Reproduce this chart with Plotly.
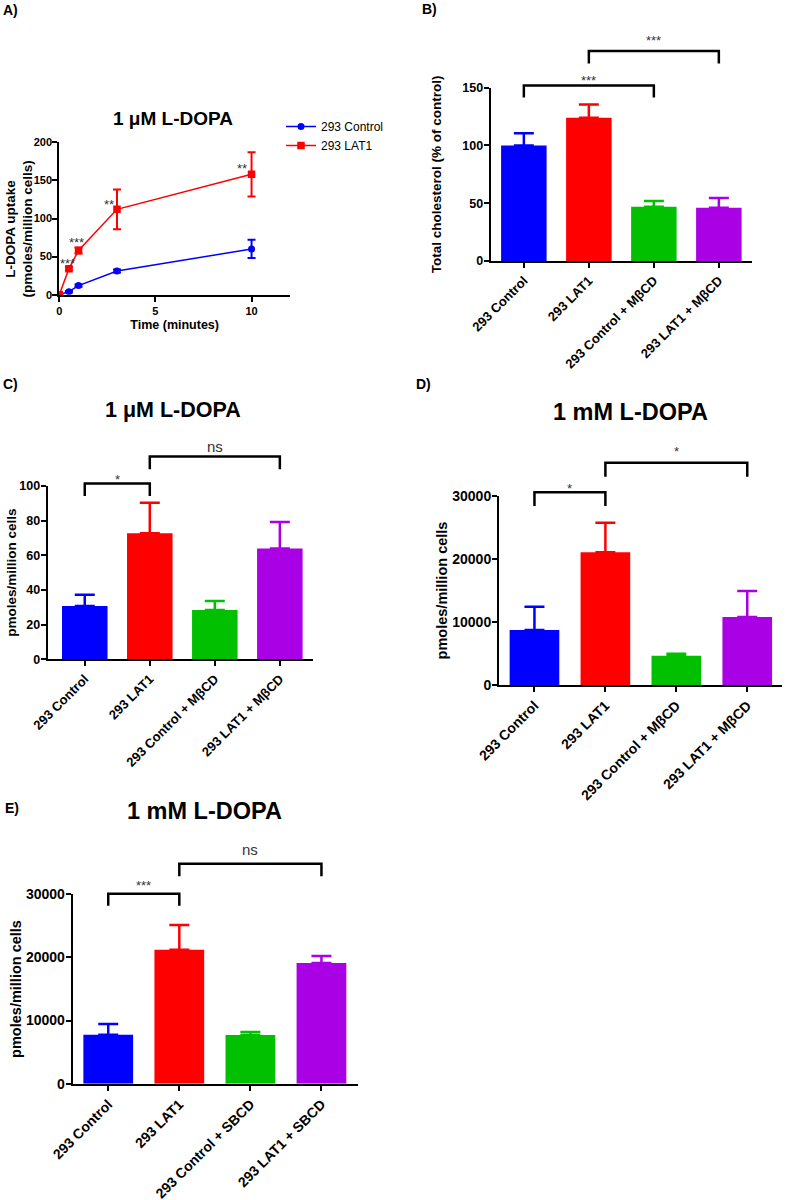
import plotly.graph_objects as go

FONT = "Liberation Sans"
W, H = 787, 1200

# A) uptake time course, 1 uM L-DOPA
time_min = [0, 0.5, 1, 3, 10]
ctrl_uptake = [0, 4, 12, 31, 60]
ctrl_err = [0, 1, 1.5, 2, 12]
lat1_uptake = [0, 34, 58, 112, 158]
lat1_err = [0, 2, 4, 26, 29]
a_star_t = [0.45, 0.87, 2.57, 9.48]
a_star_y = [41, 69, 119, 165]
a_star_txt = ["***", "***", "**", "**"]

mbcd_labels = ["293 Control", "293 LAT1", "293 Control + M\u03b2CD", "293 LAT1 + M\u03b2CD"]
sbcd_labels = ["293 Control", "293 LAT1", "293 Control + SBCD", "293 LAT1 + SBCD"]
bar_colors = ["#0000FF", "#FF0000", "#00C000", "#AA00E6"]

# B) total cholesterol
chol_pct = [100, 124, 47, 46]
chol_err = [10.5, 11.5, 5, 8.5]
# C) 1 uM L-DOPA uptake
c_uptake = [30.8, 72.7, 28.5, 64]
c_err = [6.5, 17.7, 5.1, 15.2]
# D) 1 mM L-DOPA uptake, MbCD
d_uptake = [8730, 21060, 4650, 10790]
d_err = [3700, 4710, 320, 4130]
# E) 1 mM L-DOPA uptake, SBCD
e_uptake = [7770, 21230, 7720, 19130]
e_err = [1690, 3920, 470, 1110]

# comparisons: (left bar, right bar, bracket top, leg end, label, label height)
b_brackets = [(0, 2, 152, 141.6, "***", 156.3), (1, 3, 181.7, 171, "***", 190.9)]
c_brackets = [(0, 1, 101.5, 94.2, "*", 103.7), (1, 3, 117, 109.6, "ns", 123)]
d_brackets = [(0, 1, 30600, 28400, "*", 31270), (1, 3, 35290, 33070, "*", 37140)]
e_brackets = [(0, 1, 30100, 28190, "***", 31440), (1, 3, 34850, 32840, "ns", 37030)]


def dom_x(a, b):
    return [a / W, b / W]


def dom_y(top, bottom):
    return [1 - bottom / H, 1 - top / H]


def bold(size):
    return dict(family=FONT, size=size, color="black", weight="bold")


def paper_text(text, x, y, size, angle=0):
    return dict(x=x / W, y=1 - y / H, xref="paper", yref="paper", xanchor="center",
                yanchor="middle", text="<b>%s</b>" % text, showarrow=False, font=bold(size),
                textangle=angle)


axis_style = dict(showline=True, linewidth=2, linecolor="black", ticks="outside",
                  ticklen=5, tickwidth=2, tickcolor="black", showgrid=False,
                  zeroline=False, fixedrange=True, automargin=False)

fig = go.Figure()
annotations = []

# ---- panel A ----
fig.add_trace(go.Scatter(x=time_min, y=ctrl_uptake, mode="lines+markers", name="293 Control",
                         line=dict(color="#0000FF", width=1.5),
                         marker=dict(symbol="circle", size=7, color="#0000FF"),
                         error_y=dict(type="data", array=ctrl_err, color="#0000FF",
                                      thickness=2, width=4),
                         xaxis="x", yaxis="y"))
fig.add_trace(go.Scatter(x=time_min, y=lat1_uptake, mode="lines+markers", name="293 LAT1",
                         line=dict(color="#FF0000", width=1.5),
                         marker=dict(symbol="square", size=7.5, color="#FF0000"),
                         error_y=dict(type="data", array=lat1_err, color="#FF0000",
                                      thickness=2, width=4),
                         xaxis="x", yaxis="y"))
for t, v, s in zip(a_star_t, a_star_y, a_star_txt):
    annotations.append(dict(x=t, y=v, xref="x", yref="y", text=s, showarrow=False,
                            xanchor="center", yanchor="middle",
                            font=dict(family=FONT, size=13, color="#333333")))

layout = dict(
    xaxis=dict(domain=dom_x(59.3, 290), anchor="y", range=[0, 12], tickvals=[0, 5, 10],
               tickfont=bold(11),
               title=dict(text="<b>Time (minutes)</b>", font=bold(12.5), standoff=4),
               **axis_style),
    yaxis=dict(domain=dom_y(142.3, 294.7), anchor="x", range=[0, 200],
               tickvals=[0, 50, 100, 150, 200], tickfont=bold(11), ticklabelstandoff=-2,
               **axis_style),
)
# the A y-axis title sits a little below the axis centre, as in the original
annotations.append(paper_text("L-DOPA uptake<br>(pmoles/million cells)", 19.5, 229, 13.5, -90))

panels = [
    dict(n=2, labels=mbcd_labels, vals=chol_pct, errs=chol_err, xd=(490.7, 752),
         yd=(87.7, 261), yr=[0, 150], step=50, xr=[-0.51, 3.51], br=b_brackets,
         top=15, tick=12.5, cat=13, yt="Total cholesterol (% of control)", ys=13.5,
         so=18, title=None),
    dict(n=3, labels=mbcd_labels, vals=c_uptake, errs=c_err, xd=(47.7, 313),
         yd=(486, 659.3), yr=[0, 100], step=20, xr=[-0.57, 3.51], br=c_brackets,
         top=430, tick=12.5, cat=13, yt="pmoles/million cells", ys=13.5, so=0,
         title=("1 \u03bcM L-DOPA", 173, 410, 21.5)),
    dict(n=4, labels=mbcd_labels, vals=d_uptake, errs=d_err, xd=(499, 782),
         yd=(496, 685), yr=[0, 30000], step=10000, xr=[-0.5, 3.49], br=d_brackets,
         top=430, tick=14, cat=14, yt="pmoles/million cells", ys=14.5, so=1,
         title=("1 mM L-DOPA", 630, 412, 23.5)),
    dict(n=5, labels=sbcd_labels, vals=e_uptake, errs=e_err, xd=(72.7, 357.7),
         yd=(894.3, 1083.7), yr=[0, 30000], step=10000, xr=[-0.5, 3.51], br=e_brackets,
         top=830, tick=14, cat=14, yt="pmoles/million cells", ys=14.5, so=1,
         title=("1 mM L-DOPA", 204, 811, 23.5)),
]

for p in panels:
    n = p["n"]
    xa, ya, oa = "x%d" % n, "y%d" % n, "y%d" % (n + 4)
    for lab, v, e, c in zip(p["labels"], p["vals"], p["errs"], bar_colors):
        fig.add_trace(go.Bar(x=[lab], y=[v], width=0.7, marker=dict(color=c, line=dict(width=0)),
                             error_y=dict(type="data", array=[e], arrayminus=[0], symmetric=False,
                                          color=c, thickness=2.5, width=10),
                             showlegend=False, xaxis=xa, yaxis=ya))
    yd = dom_y(*p["yd"])
    odom = [yd[0], 1 - p["top"] / H]
    scale = (p["yr"][1] - p["yr"][0]) / (yd[1] - yd[0])
    orange = [p["yr"][0], p["yr"][0] + scale * (odom[1] - odom[0])]
    for i, j, top, leg, txt, ty in p["br"]:
        fig.add_trace(go.Scatter(x=[p["labels"][i], p["labels"][i], p["labels"][j], p["labels"][j]],
                                 y=[leg, top, top, leg], mode="lines",
                                 line=dict(color="black", width=2.5), showlegend=False,
                                 hoverinfo="skip", xaxis=xa, yaxis=oa))
        annotations.append(dict(x=(i + j) / 2, y=ty, xref=xa, yref=oa, text=txt, showarrow=False,
                                xanchor="center", yanchor="middle",
                                font=dict(family=FONT, size=15 if txt == "ns" else 13,
                                          color="#333333")))
    layout["xaxis%d" % n] = dict(domain=dom_x(*p["xd"]), anchor=ya, type="category",
                                 categoryorder="array", categoryarray=p["labels"],
                                 range=p["xr"], tickangle=-45, tickfont=bold(p["cat"]),
                                 **axis_style)
    layout["yaxis%d" % n] = dict(domain=yd, anchor=xa, range=p["yr"],
                                 tickvals=list(range(p["yr"][0], p["yr"][1] + 1, p["step"])),
                                 tickformat="d", tickfont=bold(p["tick"]), ticklabelstandoff=-2,
                                 title=dict(text="<b>%s</b>" % p["yt"], font=bold(p["ys"]),
                                            standoff=p["so"]),
                                 **axis_style)
    layout["yaxis%d" % (n + 4)] = dict(domain=odom, anchor=xa, range=orange, visible=False,
                                       fixedrange=True, automargin=False)
    if p["title"]:
        t, tx, ty, sz = p["title"]
        annotations.append(paper_text(t, tx, ty, sz))

# panel A title and panel letters
annotations.append(paper_text("1 \u03bcM L-DOPA", 173, 118, 19))
for letter, lx, ly in [("A)", 10, 10), ("B)", 429, 9), ("C)", 10, 384),
                       ("D)", 424, 384), ("E)", 11.5, 808)]:
    annotations.append(paper_text(letter, lx, ly, 14))

fig.update_layout(
    width=W, height=H, autosize=False,
    margin=dict(l=0, r=0, t=0, b=0),
    paper_bgcolor="white", plot_bgcolor="rgba(0,0,0,0)",
    barmode="overlay",
    font=dict(family=FONT, color="black"),
    legend=dict(x=281 / W, y=1 - 112 / H, xanchor="left", yanchor="top",
                font=dict(family=FONT, size=12, color="black"),
                bgcolor="rgba(0,0,0,0)", tracegroupgap=0, itemclick=False),
    annotations=annotations,
    **layout,
)

# page body margin removed so the figure sits at the window's top-left corner
fig.write_html("out.html", config={"displayModeBar": False},
               post_script="document.body.style.margin = '0';")
